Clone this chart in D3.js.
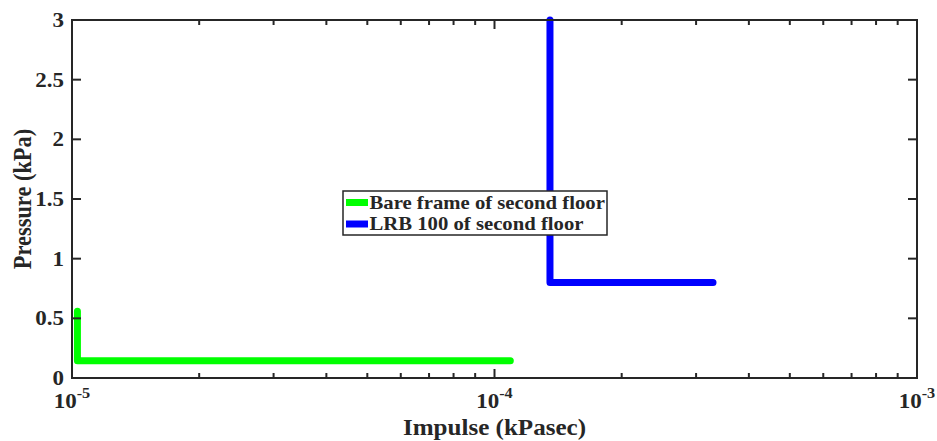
<!DOCTYPE html>
<html>
<head>
<meta charset="utf-8">
<script src="https://cdn.jsdelivr.net/npm/d3@7"></script>
<style>
  html, body { margin: 0; padding: 0; background: #fff; }
  svg { display: block; }
  text { font-family: "Liberation Serif", "Times New Roman", serif; font-weight: bold; fill: #262626; }
</style>
</head>
<body>
<svg id="chart" width="937" height="441"></svg>
<script>
// Pressure–impulse curves (impulse in kPa·s, pressure in kPa)
const seriesNames = ["Bare frame of second floor", "LRB 100 of second floor"];
const seriesColors = ["#00ff00", "#0000ff"];
const bareImpulse  = [1.03e-5, 1.03e-5, 1.09e-4];
const barePressure = [0.56, 0.145, 0.145];
const lrbImpulse   = [1.353e-4, 1.353e-4, 3.29e-4];
const lrbPressure  = [3.0, 0.80, 0.80];
const yTicks = [0, 0.5, 1, 1.5, 2, 2.5, 3];
const yTickLabels = ["0", "0.5", "1", "1.5", "2", "2.5", "3"];
const xDecades = [-5, -4, -3];

const svg = d3.select("#chart");
const margin = { left: 72, top: 20, right: 20, bottom: 63 };
const W = 937, H = 441;
const wide = 1.12; // horizontal widening of the lettering
const x = d3.scaleLog().domain([1e-5, 1e-3]).range([margin.left, W - margin.right]);
const y = d3.scaleLinear().domain([0, 3]).range([H - margin.bottom, margin.top]);
const x0 = x.range()[0], x1 = x.range()[1], y0 = y.range()[0], y1 = y.range()[1];

// text placed at (px, py) and widened horizontally around that anchor
function label(g, px, py, size, anchor) {
  return g.append("text")
    .attr("transform", `translate(${px},${py}) scale(${wide},1)`)
    .attr("text-anchor", anchor)
    .attr("font-size", size);
}

const clipId = "plotclip";
svg.append("clipPath").attr("id", clipId)
  .append("rect").attr("x", x0).attr("y", y1 - 4).attr("width", x1 - x0).attr("height", y0 - y1 + 4);

// data lines
const series = [
  { name: seriesNames[0], color: seriesColors[0], pts: bareImpulse.map((v, i) => [v, barePressure[i]]) },
  { name: seriesNames[1], color: seriesColors[1], pts: lrbImpulse.map((v, i) => [v, lrbPressure[i]]) }
];
const line = d3.line().x(d => x(d[0])).y(d => y(d[1]));
svg.append("g").attr("clip-path", `url(#${clipId})`)
  .selectAll("path").data(series).join("path")
  .attr("d", d => line(d.pts))
  .attr("fill", "none")
  .attr("stroke", d => d.color)
  .attr("stroke-width", 7)
  .attr("stroke-linejoin", "round")
  .attr("stroke-linecap", "round");

// axes box
const axisColor = "#262626";
const axesG = svg.append("g");
axesG.append("rect").attr("x", x0).attr("y", y1).attr("width", x1 - x0).attr("height", y0 - y1)
  .attr("fill", "none").attr("stroke", axisColor).attr("stroke-width", 2);

// x ticks (major at decades, minor at 2..9)
const minor = [];
for (let e = -5; e < -3; e++) for (let m = 2; m <= 9; m++) minor.push(m * Math.pow(10, e));
const majorLen = 9, minorLen = 5;
function tick(x1_, y1_, x2_, y2_) {
  axesG.append("line").attr("x1", x1_).attr("y1", y1_).attr("x2", x2_).attr("y2", y2_)
    .attr("stroke", axisColor).attr("stroke-width", 2);
}
xDecades.forEach(e => {
  const px = x(Math.pow(10, e));
  tick(px, y0, px, y0 - majorLen);
  tick(px, y1, px, y1 + majorLen);
});
minor.forEach(v => {
  const px = x(v);
  tick(px, y0, px, y0 - minorLen);
  tick(px, y1, px, y1 + minorLen);
});

// y ticks and labels
yTicks.forEach((v, i) => {
  const py = y(v);
  tick(x0, py, x0 + majorLen, py);
  tick(x1, py, x1 - majorLen, py);
  label(axesG, x0 - 8, py + 7, 20.5, "end").text(yTickLabels[i]);
});

// x tick labels: 10 with superscript exponent
xDecades.forEach(e => {
  const px = x(Math.pow(10, e));
  const t = label(axesG, px, y0 + 30, 20.5, "middle");
  t.append("tspan").text("10");
  t.append("tspan").attr("font-size", 14.5).attr("dy", -10).text(String(e));
});

// axis titles
label(svg, (x0 + x1) / 2, 435, 22.4, "middle").text("Impulse (kPasec)");
svg.append("text")
  .attr("transform", `translate(31, ${(y0 + y1) / 2}) scale(${wide},1) rotate(-90)`)
  .attr("text-anchor", "middle").attr("font-size", 22.4).text("Pressure (kPa)");

// legend
const lg = svg.append("g").attr("transform", "translate(343,191)");
lg.append("rect").attr("width", 264).attr("height", 44).attr("fill", "#fff")
  .attr("stroke", "#262626").attr("stroke-width", 1.5);
series.forEach((s, i) => {
  const ly = 11.5 + i * 21.5;
  lg.append("line").attr("x1", 3).attr("x2", 25).attr("y1", ly).attr("y2", ly)
    .attr("stroke", s.color).attr("stroke-width", 7);
  label(lg, 26.5, ly + 6.3, 18.5, "start").text(s.name);
});
</script>
</body>
</html>
